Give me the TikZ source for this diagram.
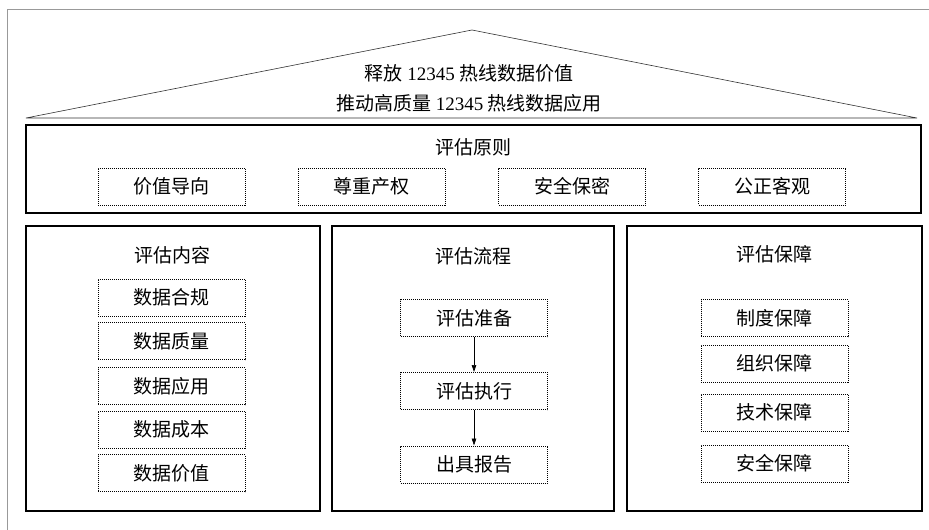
\documentclass[tikz,border=0pt]{standalone}
\usepackage{fontspec}
\setmainfont{Liberation Serif}
\newfontfamily\cjk{Noto Sans CJK SC}
\usetikzlibrary{arrows.meta}
\tikzset{
  txt/.style={font=\cjk\fontsize{19}{22}\selectfont, inner sep=0pt},
  bigbox/.style={draw=black, line width=1.7pt, inner sep=0pt},
  itembox/.style={draw=black, densely dotted, line width=1pt, minimum width=147pt, minimum height=37pt, inner sep=0pt, font=\cjk\fontsize{19}{22}\selectfont},
  roof/.style={draw=black!80, line width=0.6pt},
  frame/.style={draw=black!40, line width=0.8pt},
  flow/.style={draw=black, line width=0.7pt, -{Triangle[length=7pt,width=4.5pt]}}
}
\begin{document}
\begin{tikzpicture}[x=1pt,y=-1pt]
\useasboundingbox (0,0) rectangle (929,530);
% frame
\coordinate (f1) at (7,530);
\coordinate (f2) at (7,9);
\coordinate (f3) at (929,9);
\draw[frame] (f1) -- (f2) -- (f3);
% roof
\coordinate (rl) at (26,118);
\coordinate (ra) at (472,30);
\coordinate (rr) at (917,118);
\draw[roof] (rl) -- (ra) -- (rr) -- cycle;
\node[txt] (t1) at (469,73) {释放 {\rmfamily\fontsize{19}{22}\selectfont 12345} 热线数据价值};
\node[txt] (t2) at (469,103) {推动高质量 {\rmfamily\fontsize{19}{22}\selectfont 12345} 热线数据应用};
% principle box
\node[bigbox, minimum width=895pt, minimum height=88pt] (pb) at (473.5,169) {};
\node[txt] (pt) at (473.5,147) {评估原则};
\node[itembox] (p1) at (171.5,186.5) {价值导向};
\node[itembox] (p2) at (371.5,186.5) {尊重产权};
\node[itembox] (p3) at (572,186.5) {安全保密};
\node[itembox] (p4) at (772,186.5) {公正客观};
% bottom boxes
\node[bigbox, minimum width=294pt, minimum height=285pt] (lb) at (173,368.5) {};
\node[bigbox, minimum width=282pt, minimum height=285pt] (mb) at (473,368.5) {};
\node[bigbox, minimum width=295pt, minimum height=285pt] (rb) at (774.5,368.5) {};
\node[txt] (lt) at (172,255) {评估内容};
\node[txt] (mt) at (473,256) {评估流程};
\node[txt] (rt) at (774,254) {评估保障};
% left items
\node[itembox] (l1) at (171.5,297.5) {数据合规};
\node[itembox] (l2) at (171.5,341) {数据质量};
\node[itembox] (l3) at (171.5,386) {数据应用};
\node[itembox] (l4) at (171.5,429.5) {数据成本};
\node[itembox] (l5) at (171.5,473) {数据价值};
% middle items
\node[itembox] (m1) at (474,318) {评估准备};
\node[itembox] (m2) at (474,391) {评估执行};
\node[itembox] (m3) at (474,464.5) {出具报告};
\draw[flow] (m1) -- (m2);
\draw[flow] (m2) -- (m3);
% right items
\node[itembox] (r1) at (774.5,318) {制度保障};
\node[itembox] (r2) at (774.5,363.5) {组织保障};
\node[itembox] (r3) at (774.5,412.5) {技术保障};
\node[itembox] (r4) at (774.5,463.5) {安全保障};
\end{tikzpicture}
\end{document}
